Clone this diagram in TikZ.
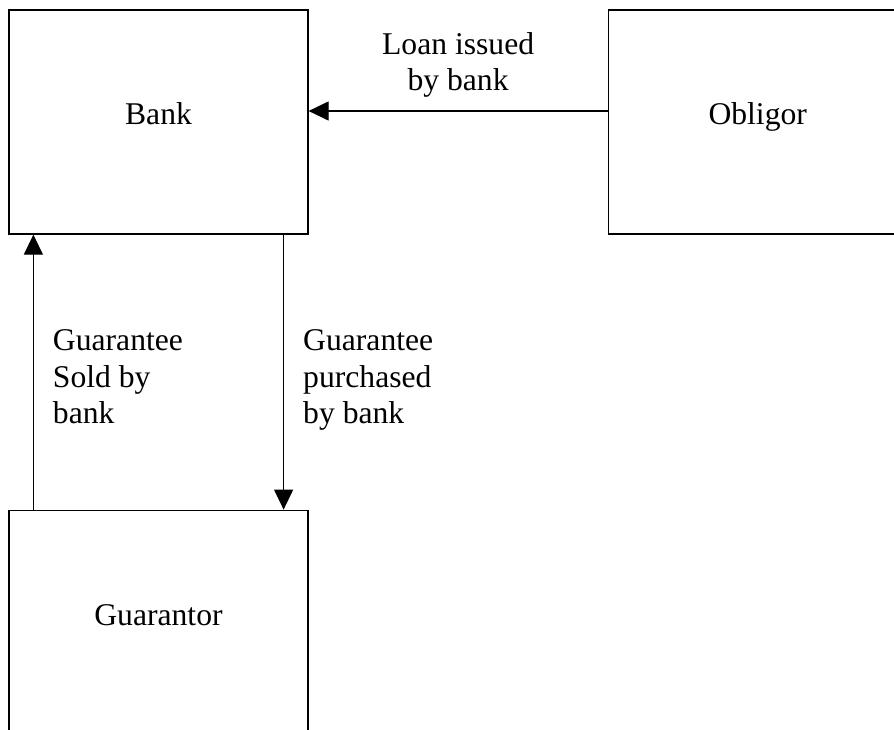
\documentclass[tikz,border=0pt]{standalone}
\usepackage{fontspec}
\setmainfont{Liberation Serif}
\usetikzlibrary{positioning, arrows.meta, calc}

\begin{document}
\begin{tikzpicture}[
    party/.style={draw, line width=0.7pt, minimum width=5.98cm, minimum height=4.48cm, text height=0.45cm, text depth=0.33cm, inner sep=0pt},
    flow/.style={-{Triangle[length=0.4cm, width=0.38cm]}, line width=0.7pt},
    note/.style={align=left, inner sep=0pt},
    font=\fontsize{18pt}{20.8pt}\selectfont]
    \clip (-3.17cm,2.44cm) rectangle (14.71cm,-12.14cm);

	\node[party] (bank) at (0,0) {Bank};
	\node[party, right=5.98cm of bank] (obligor) {Obligor};
	\node[party, below=5.5cm of bank] (guarantor) {Guarantor};

	\draw[flow] ([yshift=0.22cm]obligor.west) -- ([yshift=0.22cm]bank.east) node[midway, above=0.26cm, align=center, inner sep=0pt] {Loan issued\\by bank};

	\draw[flow] ([xshift=0.5cm]guarantor.north west) -- ([xshift=0.5cm]bank.south west) node[midway, right=0.38cm, yshift=-0.1cm, note] {Guarantee\\Sold by\\bank};
	\draw[flow] ([xshift=-0.5cm]bank.south east) -- ([xshift=-0.5cm]guarantor.north east) node[midway, right=0.38cm, yshift=-0.16cm, note] {Guarantee\\purchased\\by bank};
\end{tikzpicture}
\end{document}
